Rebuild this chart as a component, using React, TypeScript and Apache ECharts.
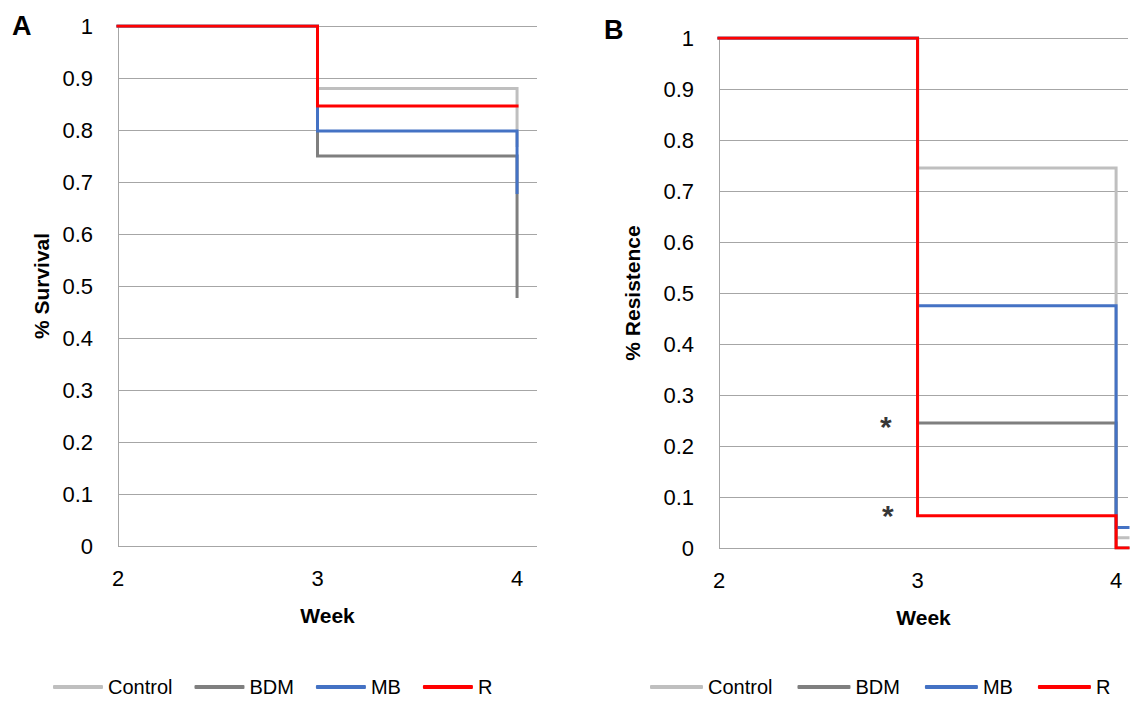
import React, { useEffect, useRef } from "react";
import * as echarts from "echarts";

// Survival (A) and resistance (B) step curves by week
const seriesNames = ["Control", "BDM", "MB", "R"];
const colors = ["#bfbfbf", "#7f7f7f", "#4472c4", "#ff0000"];

const weeksA = [2, 3, 4];
const survivalControl = [1, 0.88, 0.77];
const survivalBDM = [1, 0.75, 0.48];
const survivalMB = [1, 0.798, 0.68];
const survivalR = [1, 0.846, 0.846];

const weeksB = [2, 3, 4, 4.06];
const resistControl = [1, 0.745, 0.02, 0.02];
const resistBDM = [1, 0.245, 0, 0];
const resistMB = [1, 0.475, 0.04, 0.04];
const resistR = [1, 0.063, 0, 0];

// significance markers in panel B
const starWeeks = [2.84, 2.85];
const starValues = [0.245, 0.07];

const yTicks = [0, 0.1, 0.2, 0.3, 0.4, 0.5, 0.6, 0.7, 0.8, 0.9, 1];

const FONT = "'Liberation Sans', Arial, sans-serif";
const GRID_GREY = "#a6a6a6";

const pair = (xs: number[], ys: number[]) => xs.map((x, i) => [x, ys[i]]);

export default function App() {
  const ref = useRef<HTMLDivElement>(null);

  useEffect(() => {
    document.body.style.margin = "0";
    if (!ref.current) return;
    const chart = echarts.init(ref.current, undefined, { renderer: "svg" });

    const xAxisBase = (gridIndex: number, max: number) => ({
      type: "value",
      gridIndex,
      min: 2,
      max,
      interval: 1,
      name: "Week",
      nameLocation: "middle",
      nameGap: 59,
      nameTextStyle: { fontFamily: FONT, fontSize: 21, fontWeight: "bold", color: "#000" },
      axisLine: { show: false },
      axisTick: { show: false },
      splitLine: { show: false },
      axisLabel: {
        fontFamily: FONT,
        fontSize: 22,
        color: "#000",
        margin: 21,
        formatter: (v: number) => (Number.isInteger(v) ? String(v) : ""),
      },
    });

    const yAxisBase = (gridIndex: number, name: string, nameGap: number) => ({
      type: "value",
      gridIndex,
      min: 0,
      max: 1,
      interval: 0.1,
      name,
      nameLocation: "middle",
      nameGap,
      nameTextStyle: { fontFamily: FONT, fontSize: 21, fontWeight: "bold", color: "#000" },
      axisLine: { show: true, lineStyle: { color: GRID_GREY, width: 1 } },
      axisTick: { show: false },
      splitLine: { show: true, lineStyle: { color: GRID_GREY, width: 1 } },
      axisLabel: {
        fontFamily: FONT,
        fontSize: 22,
        color: "#000",
        margin: 25,
        formatter: (v: number) => {
          const t = yTicks.find((k) => Math.abs(k - v) < 1e-9);
          return t === undefined ? "" : String(t);
        },
      },
    });

    const stepLine = (name: string, idx: number, data: number[][], axisIndex: number) => ({
      type: "line",
      name,
      xAxisIndex: axisIndex,
      yAxisIndex: axisIndex,
      step: "end",
      symbol: "none",
      showSymbol: false,
      data,
      lineStyle: { color: colors[idx], width: 3, cap: "square", join: "miter" },
      itemStyle: { color: colors[idx] },
      z: 2 + idx,
    });

    const legendBase = (left: number, iconWidth: number, gap: number) => ({
      left,
      top: 676,
      padding: 0,
      data: seriesNames.map((name) => ({ name, icon: "roundRect" })),
      itemWidth: iconWidth,
      itemHeight: 4,
      itemGap: gap,
      selectedMode: false,
      textStyle: { fontFamily: FONT, fontSize: 20, color: "#000", lineHeight: 22 },
    });

    chart.setOption({
      animation: false,
      backgroundColor: "#fff",
      grid: [
        { left: 118, top: 26, width: 419, height: 520 },
        { left: 719, top: 38, width: 412, height: 510 },
      ],
      xAxis: [xAxisBase(0, 4.1), xAxisBase(1, 4.06)],
      yAxis: [yAxisBase(0, "% Survival", 66), yAxisBase(1, "% Resistence", 76)],
      legend: [legendBase(53, 50, 22), legendBase(650, 53, 25)],
      series: [
        stepLine("Control", 0, pair(weeksA, survivalControl), 0),
        stepLine("BDM", 1, pair(weeksA, survivalBDM), 0),
        stepLine("MB", 2, pair(weeksA, survivalMB), 0),
        stepLine("R", 3, pair(weeksA, survivalR), 0),
        stepLine("Control", 0, pair(weeksB, resistControl), 1),
        stepLine("BDM", 1, pair(weeksB, resistBDM), 1),
        stepLine("MB", 2, pair(weeksB, resistMB), 1),
        stepLine("R", 3, pair(weeksB, resistR), 1),
        {
          type: "scatter",
          name: "sig",
          xAxisIndex: 1,
          yAxisIndex: 1,
          symbolSize: 1,
          itemStyle: { color: "transparent" },
          data: pair(starWeeks, starValues),
          label: {
            show: true,
            position: "inside",
            formatter: "*",
            fontFamily: FONT,
            fontSize: 30,
            fontWeight: "bold",
            color: "#000",
            offset: [0, 3],
          },
          z: 10,
        },
      ],
      graphic: [
        {
          type: "text",
          left: 12,
          top: 12,
          style: { text: "A", fontFamily: FONT, fontSize: 27, fontWeight: "bold", fill: "#000" },
        },
        {
          type: "text",
          left: 604,
          top: 16,
          style: { text: "B", fontFamily: FONT, fontSize: 27, fontWeight: "bold", fill: "#000" },
        },
      ],
    });

    return () => chart.dispose();
  }, []);

  return <div ref={ref} style={{ width: 1131, height: 702 }} />;
}
